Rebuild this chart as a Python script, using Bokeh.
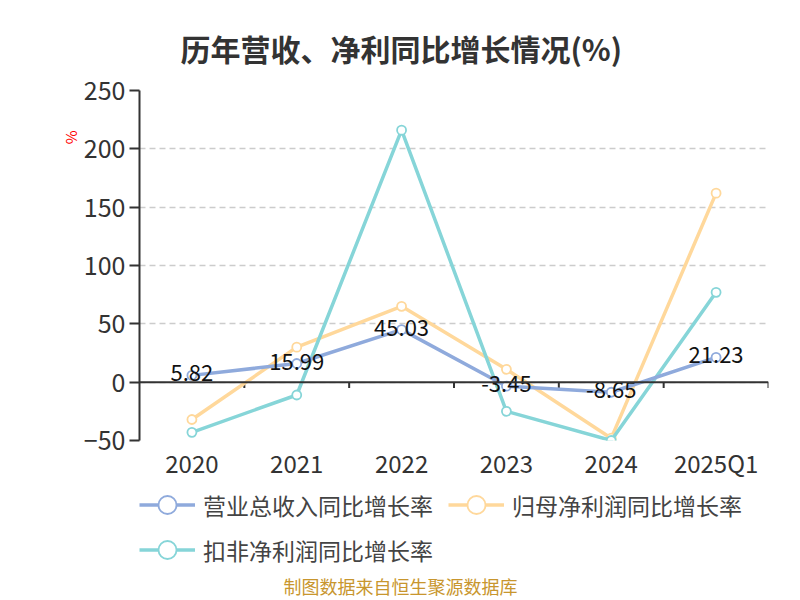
import math
from bokeh.plotting import figure
from bokeh.layouts import column
from bokeh.models import (ColumnDataSource, Legend, LegendItem, Span, Title, Label,
                          FixedTicker, Range1d)
from bokeh.core.properties import value
from bokeh.embed import file_html
from bokeh.resources import INLINE

categories = ["2020", "2021", "2022", "2023", "2024", "2025Q1"]
revenue_growth = [5.82, 15.99, 45.03, -3.45, -8.65, 21.23]
net_profit_growth = [-32, 30, 65, 11, -48, 162]
deducted_profit_growth = [-43, -11, 216, -25, -50, 77]
y_ticks = [-50, 0, 50, 100, 150, 200, 250]
series_names = ["营业总收入同比增长率", "归母净利润同比增长率", "扣非净利润同比增长率"]

FONT = "Noto Sans CJK SC"
colors = ["#8FAADC", "#FFD89B", "#86D5D8"]

p = figure(x_range=categories, y_range=(-50, 250), frame_width=629, frame_height=350,
           output_backend="svg", toolbar_location=None,
           min_border_left=139, min_border_right=16, min_border_top=90, min_border_bottom=37)
p.outline_line_color = None
p.background_fill_color = "white"
p.border_fill_color = "white"

p.title.text = "历年营收、净利同比增长情况(%)"
p.title.align = "left"
p.title.offset = 41
p.title.vertical_align = "top"
p.title.text_font = FONT
p.title.text_font_size = "30px"
p.title.text_font_style = "bold"
p.title.text_color = "#333333"
p.title.standoff = 38

# grid
p.xgrid.grid_line_color = None
p.ygrid.grid_line_color = "#CCCCCC"
p.ygrid.grid_line_dash = "6 4"
p.ygrid.grid_line_width = 1.5
p.ygrid.ticker = FixedTicker(ticks=y_ticks)

# y axis
p.yaxis.ticker = FixedTicker(ticks=y_ticks)
p.yaxis.axis_line_color = "#333333"
p.yaxis.axis_line_width = 2
p.yaxis.major_tick_line_color = "#333333"
p.yaxis.major_tick_line_width = 2
p.yaxis.major_tick_out = 10
p.yaxis.major_tick_in = 0
p.yaxis.minor_tick_line_color = None
p.yaxis.major_label_text_font = FONT
p.yaxis.major_label_text_font_size = "25px"
p.yaxis.major_label_text_color = "#333333"
p.yaxis.major_label_standoff = 4

# x axis (labels only at bottom)
p.xaxis.axis_line_color = None
p.xaxis.major_tick_line_color = None
p.xaxis.minor_tick_line_color = None
p.xaxis.major_label_text_font = FONT
p.xaxis.major_label_text_font_size = "24px"
p.xaxis.major_label_text_color = "#333333"
p.xaxis.major_label_standoff = -2

# zero line acting as x axis
p.add_layout(Span(location=0, dimension="width", line_color="#333333", line_width=2))
boundaries = [(c, 0.5) for c in categories]
p.segment(x0=boundaries, y0=[0] * len(boundaries), x1=boundaries, y1=[-5] * len(boundaries),
          line_color="#333333", line_width=2)

series = [revenue_growth, net_profit_growth, deducted_profit_growth]
for i in [1, 2, 0]:
    src = ColumnDataSource(dict(x=categories, y=series[i]))
    p.line("x", "y", source=src, line_color=colors[i], line_width=3.5)
    p.scatter("x", "y", source=src, size=9, marker="circle", fill_color="white",
              line_color=colors[i], line_width=1.8)

# data labels for revenue
lab_src = ColumnDataSource(dict(x=categories, y=revenue_growth,
                                t=[f"{v:.2f}" for v in revenue_growth]))
p.text("x", "y", text="t", source=lab_src, text_align="center", text_baseline="middle",
       text_font=value(FONT), text_font_size="22px", text_color="#111111", y_offset=-2)

# y unit label as a left-side title
unit = Title(text="%", align="right", offset=40, text_font=FONT, text_font_size="15px",
             text_color="red", text_font_style="normal", standoff=0)
p.add_layout(unit, "left")

# ---- legend + footer strip (its frame is aligned with the main frame) ----
p2 = figure(width=784, height=115, x_range=Range1d(139, 768), y_range=Range1d(0, 115),
            output_backend="svg", toolbar_location=None,
            min_border_left=139, min_border_right=16, min_border_top=0, min_border_bottom=0)
p2.axis.visible = False
p2.grid.visible = False
p2.outline_line_color = None
p2.border_fill_color = "white"

items = []
for i in range(3):
    # series drawn outside this strip's view; used only for their legend glyphs
    src = ColumnDataSource(dict(x=list(range(len(categories))), y=series[i]))
    r1 = p2.line("x", "y", source=src, line_color=colors[i], line_width=3.5)
    r2 = p2.scatter("x", "y", source=src, marker="circle", size=9, fill_color="white",
                    line_color=colors[i], line_width=1.8)
    items.append(LegendItem(label=series_names[i], renderers=[r1, r2]))

legend = Legend(items=items, orientation="horizontal", ncols=2, location=(0, 25),
                label_text_font=FONT, label_text_font_size="23px",
                label_text_color="#444444", glyph_width=56, glyph_height=45,
                spacing=0, padding=0, margin=0, label_width=245, label_standoff=8,
                border_line_color=None, background_fill_alpha=0)
p2.add_layout(legend)

p2.add_layout(Label(x=400, y=12, text="制图数据来自恒生聚源数据库", text_font=FONT,
                    text_font_size="18px", text_color="#C8962E",
                    text_align="center", text_baseline="middle"))

layout = column(p, p2, spacing=0)
open("out.html", "w").write(file_html(layout, INLINE))
